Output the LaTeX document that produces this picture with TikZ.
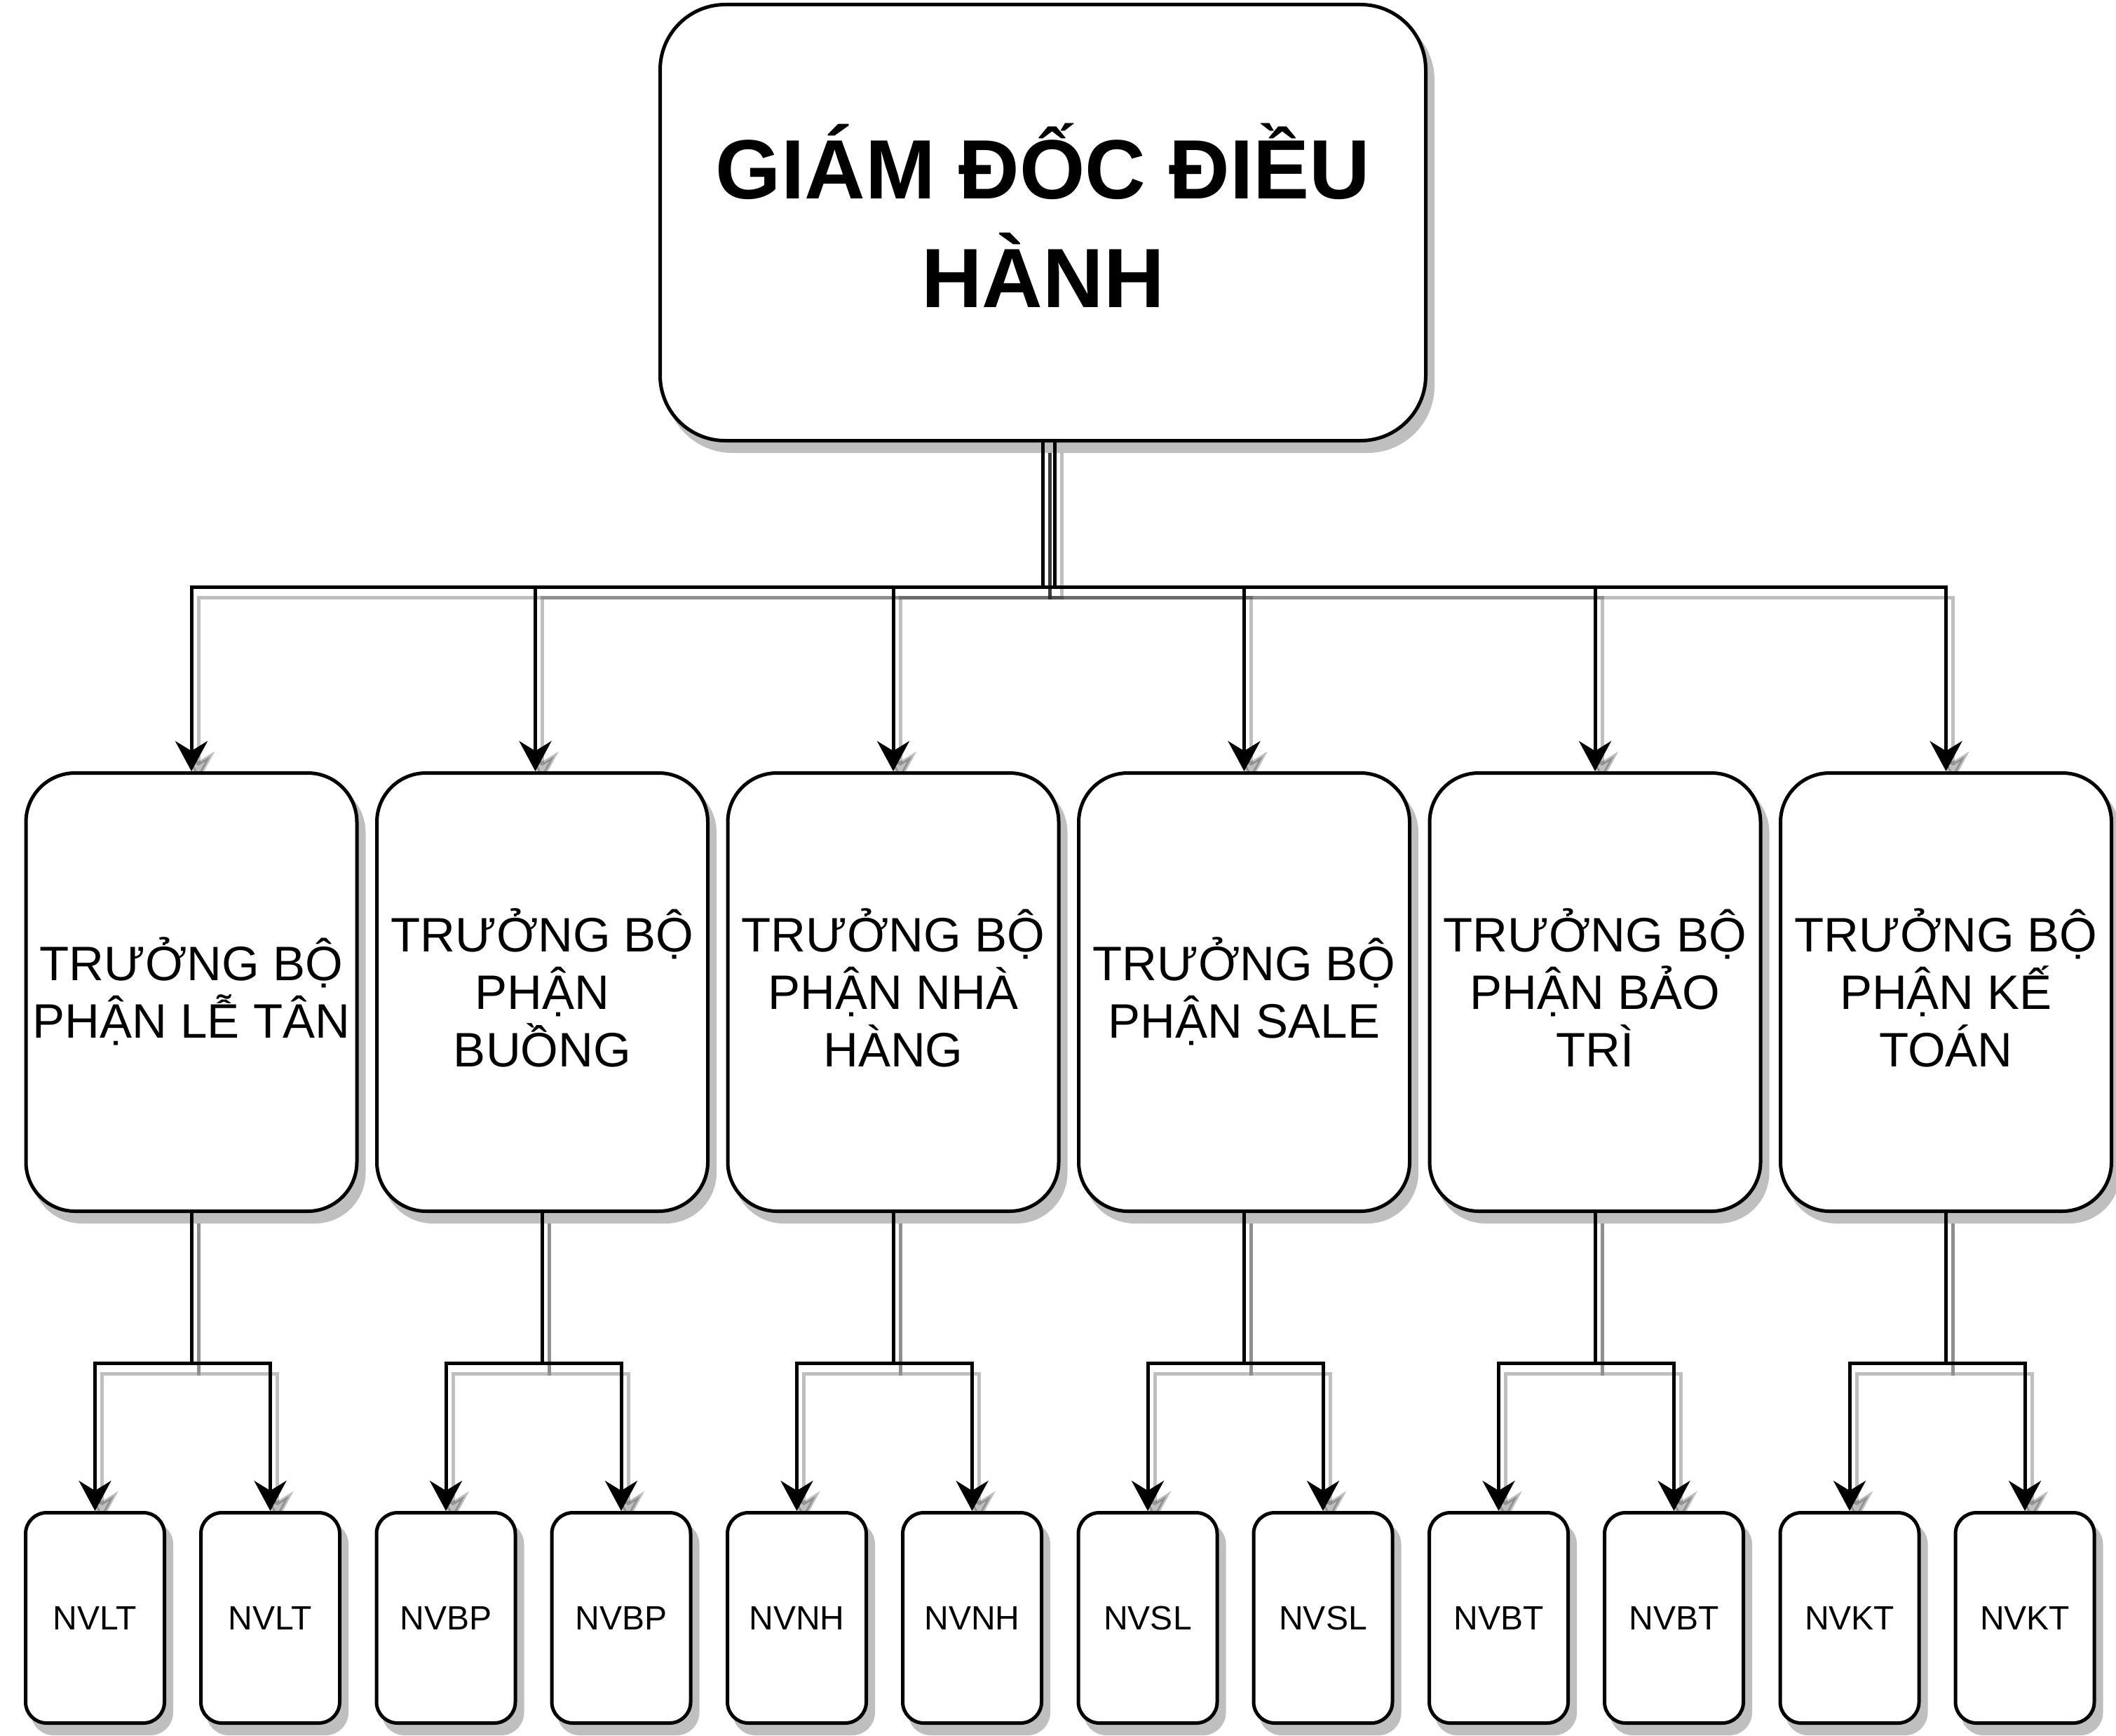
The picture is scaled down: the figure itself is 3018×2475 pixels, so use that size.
\documentclass[tikz,border=0pt]{standalone}
\usepackage{fontspec}
\setmainfont{Liberation Sans}
\usetikzlibrary{arrows.meta,shadows}

\pgfdeclarelayer{bosslayer}
\pgfdeclarelayer{bosslinks}
\pgfdeclarelayer{headlayer}
\pgfdeclarelayer{headlinks}
\pgfsetlayers{bosslayer,bosslinks,headlayer,headlinks,main}

\begin{document}
\begin{tikzpicture}[x=1pt,y=-1pt,
    box/.style={draw,fill=white,line width=5pt,inner sep=0pt,align=center,text depth=0pt,
      drop shadow={shadow xshift=10pt,shadow yshift=-15pt,opacity=1,fill=black!25,draw=black!25,line width=5pt}},
    bossbox/.style={box,rounded corners=93pt,minimum width=1092pt,minimum height=622pt,
      font=\fontsize{120}{155}\selectfont\bfseries,text height=241pt},
    headbox/.style={box,rounded corners=70pt,minimum width=472pt,minimum height=625pt,
      font=\fontsize{69}{82}\selectfont},
    staffbox/.style={box,rounded corners=30pt,minimum width=198pt,minimum height=300pt,
      font=\fontsize{48}{58}\selectfont,text height=34pt},
    tip/.style={-{Stealth[length=43pt,width=46pt,inset=14pt]}},
    link/.style={line width=5pt,tip,
      preaction={draw=black,opacity=0.25,line width=5pt,tip,transform canvas={shift={(10pt,-15pt)}}}}]

  \useasboundingbox (0,0) rectangle (3018,2475);
  \coordinate (topbus) at (0,837);
  \coordinate (subbus) at (0,1944);

  \begin{pgfonlayer}{bosslayer}
    \node[bossbox] (boss) at (1487.5,317.5) {GIÁM ĐỐC ĐIỀU\\HÀNH};
  \end{pgfonlayer}

  % truong bo phan
  \begin{pgfonlayer}{headlayer}
    \foreach \name/\rows/\txt [count=\i from 0] in {
        lt/131pt/{TRƯỞNG BỘ\\PHẬN LỄ TÂN},
        bp/213pt/{TRƯỞNG BỘ\\PHẬN\\BUỒNG},
        nh/213pt/{TRƯỞNG BỘ\\PHẬN NHÀ\\HÀNG},
        sl/131pt/{TRƯỞNG BỘ\\PHẬN SALE},
        bt/213pt/{TRƯỞNG BỘ\\PHẬN BẢO\\TRÌ},
        kt/213pt/{TRƯỞNG BỘ\\PHẬN KẾ\\TOÁN}}
      \node[headbox,text height=\rows] (\name) at (273+500.5*\i,1415) {\txt};
  \end{pgfonlayer}

  % nhan vien
  \foreach \name/\txt [count=\i from 0] in {lt/NVLT,bp/NVBP,nh/NVNH,sl/NVSL,bt/NVBT,kt/NVKT} {
    \node[staffbox] (\name1) at (135.5+500.5*\i,2307.5) {\txt};
    \node[staffbox] (\name2) at (385.5+500.5*\i,2307.5) {\txt};
  }

  \begin{pgfonlayer}{bosslinks}
    \coordinate (bossr) at ([xshift=17pt]boss.south);
    \foreach \name in {lt,nh,sl,bt,kt}
      \draw[link] (boss.south) -- (boss.south |- topbus) -| (\name.north);
    \draw[link] (bossr) -- (bossr |- topbus) -| ([xshift=-10pt]bp.north);
  \end{pgfonlayer}

  \begin{pgfonlayer}{headlinks}
    \foreach \name in {lt,bp,nh,sl,bt,kt} {
      \draw[link] (\name.south) -- (\name.south |- subbus) -| (\name1.north);
      \draw[link] (\name.south) -- (\name.south |- subbus) -| (\name2.north);
    }
  \end{pgfonlayer}
\end{tikzpicture}
\end{document}
